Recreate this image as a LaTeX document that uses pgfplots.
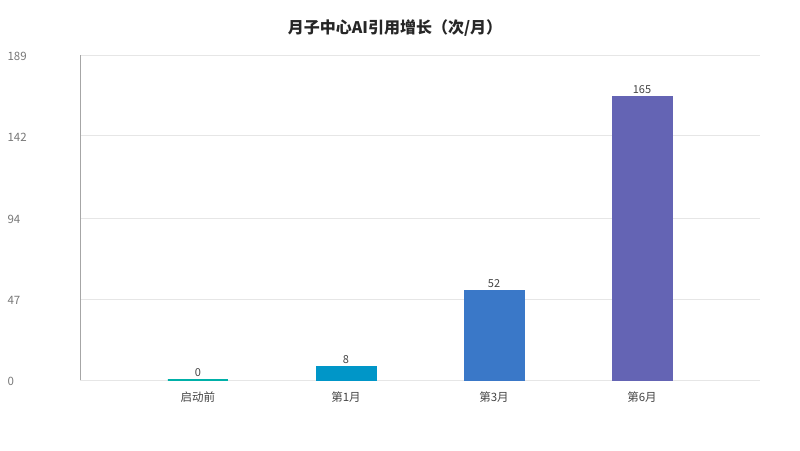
\documentclass[border=0pt]{standalone}
\usepackage{pgfplots}
\pgfplotsset{compat=1.18}
\usepackage{fontspec}
\setmainfont{Noto Sans CJK SC}
\definecolor{c0}{HTML}{00B0A8}
\definecolor{c1}{HTML}{0096C8}
\definecolor{c2}{HTML}{3A78C8}
\definecolor{c3}{HTML}{6464B4}
\definecolor{gridc}{HTML}{E6E6E6}
\definecolor{tickc}{HTML}{777777}
\definecolor{labc}{HTML}{444444}
\begin{document}
\begin{tikzpicture}
\path[use as bounding box] (0,0) rectangle (800pt,450pt);
\node[font=\fontsize{16}{18}\selectfont\bfseries, text=black!85] at (395pt,422pt) {月子中心AI引用增长（次/月）};
\begin{axis}[
  at={(80pt,70pt)}, anchor=south west,
  scale only axis, width=680pt, height=325pt,
  ybar, bar width=60pt, bar shift=0pt,
  xmin=-0.797, xmax=3.797, ymin=0, ymax=189,
  xtick={0,1,2,3}, xticklabels={启动前,第1月,第3月,第6月},
  ytick={0,47,94,142,189},
  axis lines=left,
  x axis line style={draw=gridc, -},
  y axis line style={draw=black!35, -},
  major tick length=0pt,
  ymajorgrids, grid style={draw=gridc, line width=0.8pt},
  /pgf/number format/assume math mode=true,
  ticklabel style={font=\fontsize{11.5}{13}\selectfont},
  yticklabel style={anchor=west, xshift=-76pt, yshift=-1.5pt, text=tickc},
  xticklabel style={text=labc, yshift=-8pt},
  nodes near coords,
  every node near coord/.append style={font=\fontsize{11}{13}\selectfont, text=labc, yshift=-0.5pt},
]
\addplot[fill=c0, draw=c0, line width=1.2pt] coordinates {(0,0)};
\addplot[fill=c1, draw=c1] coordinates {(1,8)};
\addplot[fill=c2, draw=c2] coordinates {(2,52)};
\addplot[fill=c3, draw=c3] coordinates {(3,165)};
\end{axis}
\end{tikzpicture}
\end{document}
